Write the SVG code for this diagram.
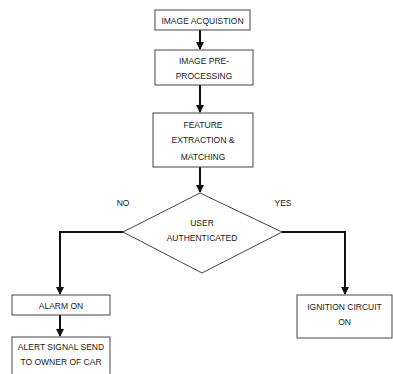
<svg xmlns="http://www.w3.org/2000/svg" width="393" height="374" viewBox="0 0 393 374">
<defs>
<marker id="ah" markerWidth="8" markerHeight="8" refX="7" refY="4" orient="auto" markerUnits="userSpaceOnUse">
<path d="M0,0 L8,4 L0,8 Z" fill="#111"/>
</marker>
<style>
.box{fill:#fff;stroke:#444;stroke-width:1}
.t{font-family:"Liberation Sans",Arial,sans-serif;font-size:8.5px;fill:#222;text-anchor:middle}
.c{fill:none;stroke:#111;stroke-width:2}
</style>
</defs>
<rect width="393" height="374" fill="#fff"/>
<g id="connectors">
<path class="c" d="M200,30 V49" marker-end="url(#ah)"/>
<path class="c" d="M200,85 V112" marker-end="url(#ah)"/>
<path class="c" d="M200,167 V192" marker-end="url(#ah)"/>
<path class="c" d="M123,232 H60 V294" marker-end="url(#ah)"/>
<path class="c" d="M282,232 H345 V294" marker-end="url(#ah)"/>
<path class="c" d="M60,315 V336" marker-end="url(#ah)"/>
</g>
<g id="acq"><rect class="box" x="155" y="10" width="95" height="20"/><text class="t" x="202.5" y="23.5">IMAGE ACQUISTION</text></g>
<g id="pre"><rect class="box" x="155" y="50" width="98" height="35"/><text class="t" x="204" y="64">IMAGE PRE-</text><text class="t" x="204" y="79">PROCESSING</text></g>
<g id="feat"><rect class="box" x="153" y="113" width="100" height="54"/><text class="t" x="203" y="128">FEATURE</text><text class="t" x="203" y="143">EXTRACTION &amp;</text><text class="t" x="203" y="160">MATCHING</text></g>
<g id="decision"><polygon class="box" points="200,193 282,232 202,273 123,232"/><text class="t" x="202" y="226">USER</text><text class="t" x="202" y="241">AUTHENTICATED</text></g>
<g id="labels"><text class="t" x="123" y="206">NO</text><text class="t" x="283" y="206">YES</text></g>
<g id="alarm"><rect class="box" x="12" y="295" width="98" height="20"/><text class="t" x="61" y="308.5">ALARM ON</text></g>
<g id="alert"><rect class="box" x="12" y="337" width="98" height="40"/><text class="t" x="61" y="350">ALERT SIGNAL SEND</text><text class="t" x="61" y="365">TO OWNER OF CAR</text></g>
<g id="ignition"><rect class="box" x="297" y="295" width="95" height="43"/><text class="t" x="344.5" y="310">IGNITION CIRCUIT</text><text class="t" x="344.5" y="325">ON</text></g>
</svg>
